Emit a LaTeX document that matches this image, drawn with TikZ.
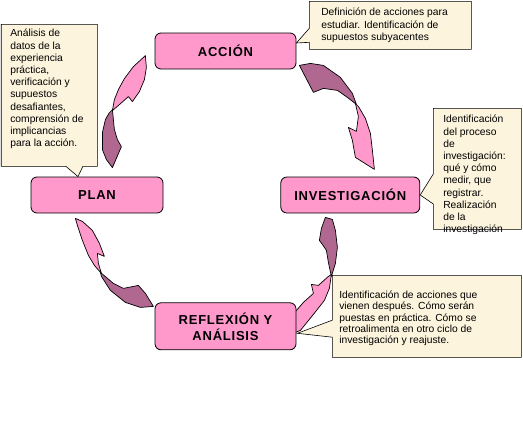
\documentclass[tikz,border=0pt]{standalone}
\usepackage{fontspec}
\setmainfont{Liberation Sans}
\newfontfamily\rotulo{Liberation Sans}[LetterSpace=6]
\usepackage{tikz}
\usetikzlibrary{shapes.callouts,positioning,calc,backgrounds}
\definecolor{rosa}{RGB}{255,153,204}
\definecolor{malva}{RGB}{176,104,144}
\definecolor{crema}{RGB}{253,244,221}

\begin{document}
\begin{tikzpicture}[x=1pt, y=-1pt,
  etapa/.style={rectangle, draw=black, fill=rosa, rounded corners=6pt, line width=0.8pt,
    align=center, minimum height=36pt, font=\rotulo\fontsize{13}{16}\selectfont\bfseries},
  nota/.style={rectangle callout, draw=black, fill=crema, line width=0.6pt,
    anchor=north west, font=\fontsize{10.3}{12.2}\selectfont},
  flecha/.style={draw=black, line width=0.7pt, line join=round, fill=rosa},
  flechaosc/.style={flecha, fill=malva}
]
\useasboundingbox (0,0) rectangle (523,426);

\node[etapa, minimum width=132pt] (E1) at (97,195) {PLAN};
\node[etapa, minimum width=141pt] (E2) at (225.5,51) {ACCIÓN};
\node[etapa, minimum width=139pt, right=117pt of E1] (E3) {INVESTIGACIÓN};
\node[etapa, minimum width=141pt, minimum height=47pt, below=233pt of E2] (E4) {REFLEXIÓN Y\\ANÁLISIS};

\node[nota, inner xsep=9pt, inner ysep=5pt, callout pointer width=17pt,
  callout absolute pointer={($(E1.north)+(-19,0)$)}] (E1a) at (1,24)
  {\parbox[c][132pt][t]{78pt}{Análisis de\\datos de la\\experiencia\\práctica,\\verificación y\\supuestos\\desafiantes,\\comprensión de\\implicancias\\para la acción.}};
\node[nota, inner xsep=12pt, inner ysep=7pt, callout pointer width=14pt,
  callout absolute pointer={($(E2.east)+(0,-8)$)}] (E2a) at (309,1)
  {\parbox[c][34pt][t]{138pt}{Definición de acciones para\\estudiar. Identificación de\\supuestos subyacentes}};
\node[nota, inner xsep=10pt, inner ysep=7pt, callout pointer width=30pt,
  callout absolute pointer={(E3.east)}] (E3a) at (433,108)
  {\parbox[c][107pt][t]{68pt}{Identificación\\del proceso\\de\\investigación:\\qué y cómo\\medir, que\\registrar.\\Realización\\de la\\investigación}};
\node[nota, inner xsep=7pt, inner ysep=16pt, callout pointer width=17pt, font=\fontsize{10.3}{11.1}\selectfont,
  callout absolute pointer={($(E4.east)+(1,7)$)}] (E4a) at (332,275)
  {\parbox[c][50pt][t]{175pt}{Identificación de acciones que\\vienen después. Cómo serán\\puestas en práctica. Cómo se\\retroalimenta en otro ciclo de\\investigación y reajuste.}};

\begin{scope}[on background layer]
\fill[white] (0,0) rectangle (523,426);
\end{scope}
\begin{scope}[on background layer, shift={(E1.north east)}]
\draw[flechaosc] (-51,-67) -- (-50,-57) -- (-49,-47) -- (-46,-37) -- (-42,-30) -- (-51,-9)
  -- (-57,-17) -- (-61,-27) -- (-61,-44) -- (-58,-57) -- (-54,-64) -- cycle;
\draw[flecha] (-51,-66) -- (-49,-77) -- (-45,-87) -- (-39,-98) -- (-30,-110) -- (-18,-121)
  -- (-17,-109) -- (-19,-97) -- (-24,-85) -- (-31,-75) -- (-35,-80) -- (-44,-72) -- cycle;
\end{scope}
\begin{scope}[on background layer, shift={(E2.south east)}]
\draw[flechaosc] (3,-4) -- (14,-6) -- (27,-4) -- (44,8) -- (56,24) -- (60,35) -- (51,28)
  -- (41,21) -- (27,19) -- (17,23) -- cycle;
\draw[flecha] (59,34) -- (62,47) -- (60,62) -- (52,58) -- (56,71) -- (59,88) -- (78,100)
  -- (76,81) -- (74,64) -- (69,49) -- (62,37) -- cycle;
\end{scope}
\begin{scope}[on background layer, shift={(E3.south west)}]
\draw[flechaosc] (45,4) -- (52,6) -- (55,17) -- (57,34) -- (55,50) -- (51,63) -- (48,49)
  -- (46,37) -- (42,31) -- (39,27) -- (41,15) -- cycle;
\draw[flecha] (51,61) -- (49,75) -- (44,87) -- (33,101) -- (20,117) -- (10,121) -- (8,105)
  -- (16,97) -- (23,89) -- (33,80) -- (31,71) -- (38,72) -- (48,63) -- cycle;
\end{scope}
\begin{scope}[on background layer, shift={(E1.south east)}]
\draw[flecha] (-88,5) -- (-81,8) -- (-71,17) -- (-64,30) -- (-59,43) -- (-66,40) -- (-65,50)
  -- (-62,60) -- (-69,52) -- (-75,42) -- (-81,27) -- (-86,12) -- cycle;
\draw[flechaosc] (-63,59) -- (-50,70) -- (-40,75) -- (-25,72) -- (-18,80) -- (-10,93)
  -- (-23,94) -- (-38,89) -- (-53,77) -- (-62,63) -- cycle;
\end{scope}

\end{tikzpicture}
\end{document}
